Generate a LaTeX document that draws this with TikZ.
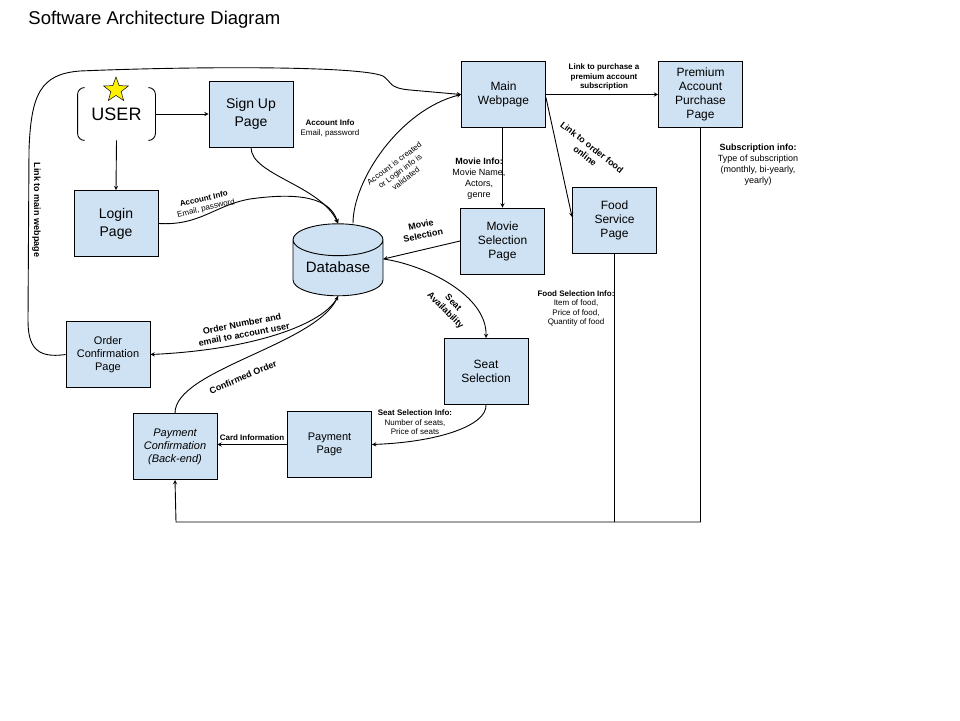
\documentclass[tikz,border=0pt]{standalone}
\usepackage{fontspec}
\setmainfont{Liberation Sans}
\usepackage{tikz}
\usetikzlibrary{shapes.geometric}
\definecolor{boxblue}{HTML}{CFE2F3}
\newcommand{\fsz}[2]{\fontsize{#1}{#2}\selectfont}

\begin{document}
\begin{tikzpicture}[x=1pt, y=-1pt, line width=0.9pt,
    pagebox/.style={draw, fill=boxblue, minimum width=84, minimum height=66, align=center, inner sep=1, font=\fsz{12}{14}},
    lbl/.style={align=center, inner sep=0, font=\fsz{8}{9.5}},
    lblbig/.style={align=center, inner sep=0, font=\fsz{9}{11}}]
\useasboundingbox (0,0) rectangle (960,720);
\node[anchor=west, inner sep=0, font=\fsz{18.5}{22}] (title) at (28,20) {Software Architecture Diagram};

% user and entry pages
\node[minimum width=77, minimum height=52, font=\fsz{18}{20}] (user) at (116.5,114) {USER};
\draw[rounded corners=7] ([xshift=7]user.north west) -- (user.north west) -- (user.south west) -- ([xshift=7]user.south west);
\draw[rounded corners=7] ([xshift=-7]user.north east) -- (user.north east) -- (user.south east) -- ([xshift=-7]user.south east);
\node[star, star points=5, star point ratio=2.4, draw, fill=yellow, line width=0.5pt, minimum size=26, inner sep=0] (userstar) at (116,90) {};
\node[pagebox, font=\fsz{14}{18}] (signup) at (251,114) {Sign Up\\Page};
\node[pagebox, font=\fsz{14}{18}] (login) at (116,223.5) {Login\\Page};

% web pages
\node[pagebox] (mainweb) at (503.5,94.5) {Main\\Webpage};
\node[pagebox] (premium) at (700.5,94.5) {Premium\\Account\\Purchase\\Page};
\node[pagebox] (food) at (614.5,220) {Food\\Service\\Page};
\node[pagebox] (movie) at (502.5,241) {Movie\\Selection\\Page};
\node[pagebox] (seat) at (486,371.5) {Seat\\Selection};
\node[pagebox, font=\fsz{11}{13}] (payment) at (329.5,444.5) {Payment\\Page};
\node[pagebox, font=\fsz{11}{13}] (orderconf) at (108,354.5) {Order\\Confirmation\\Page};
\node[pagebox, font=\fsz{11}{13}\itshape] (payconf) at (175,446.5) {Payment\\Confirmation\\(Back-end)};
\node[cylinder, shape border rotate=90, aspect=0.45, draw, fill=boxblue, minimum width=90, minimum height=72, font=\fsz{15}{18}] (db) at (338,271) {\raisebox{7pt}{Database}};

% sign up / login
\draw[-stealth] (user.east) -- (signup.west);
\draw[-stealth] (user.south) -- (login.north);
\draw[-stealth] (signup.south) .. controls (251,175) and (320,185) .. (db.north);
\draw[-stealth] (login.east) .. controls (200,226) and (215,205) .. (250,199) .. controls (300,192) and (330,198) .. (db.north);
\node[lbl] (signupinfo) at (330,128.5) {\textbf{Account Info}\\Email, password};
\node[lbl, rotate=13] (logininfo) at (205,204) {\textbf{Account Info}\\Email, password};
\draw[-stealth] ([xshift=15]db.north) .. controls (353,180) and (400,110) .. (mainweb.west);
\node[lbl, rotate=37] (validinfo) at (400,171) {Account is created\\or Login info is\\validated};

% back to main webpage
\draw[-stealth] (orderconf.west) .. controls (35,359) and (28,345) .. (28,320) -- (29,150)
    .. controls (31,95) and (40,74) .. (80,71) .. controls (200,66) and (360,66) .. (383,76)
    .. controls (392,82) and (388,88) .. (410,90) -- (mainweb.west);
\node[lblbig, rotate=-90, font=\bfseries\fsz{9}{11}] (mainlink) at (36.5,210) {Link to main webpage};

% main webpage links
\draw[-stealth] (mainweb.east) -- (premium.west);
\node[lbl, font=\bfseries\fsz{8}{9.5}] (premiumlink) at (604,77) {Link to purchase a\\premium account\\subscription};
\draw[-stealth] ([yshift=-3]mainweb.east) -- ([yshift=3]food.west);
\node[lblbig, rotate=-38, font=\bfseries\fsz{9}{11}] (foodlink) at (588.5,151.5) {Link to order food\\online};
\draw[-stealth] (movie.north |- mainweb.south) -- (movie.north);
\node[lblbig] (movieinfo) at (479,179) {\textbf{Movie Info:}\\Movie Name,\\Actors,\\genre};

% movie and seats
\draw[-stealth] (movie.west) -- ([yshift=12]db.east);
\node[lblbig, rotate=12, font=\bfseries\fsz{9}{11}] (moviesel) at (422,230) {Movie\\Selection};
\draw[-stealth] ([yshift=12]db.east) .. controls (425,265) and (487,295) .. (seat.north);
\node[lblbig, rotate=-45, font=\bfseries\fsz{9}{11}] (seatavail) at (449,307) {Seat\\Availability};
\draw[-stealth] (seat.south) .. controls (487,425) and (440,442) .. (payment.east);
\node[lbl] (seatinfo) at (415,422.5) {\textbf{Seat Selection Info:}\\Number of seats,\\Price of seats};

% payment
\draw[-stealth] (payment.west) -- (payment.west -| payconf.east);
\node[lbl, font=\bfseries\fsz{8}{9.5}] (cardinfo) at (252,438) {Card Information};
\draw[-stealth] (payconf.north) .. controls (175,370) and (315,345) .. (db.south);
\node[lblbig, rotate=23, font=\bfseries\fsz{9}{11}] (confirmed) at (243,377) {Confirmed Order};
\draw[-stealth] (db.south) .. controls (325,325) and (250,350) .. (orderconf.east);
\node[lblbig, rotate=11, font=\bfseries\fsz{9}{11}] (ordernum) at (243,329) {Order Number and\\email to account user};

% food and subscription back to payment
\coordinate (bend) at (176,522);
\draw[-stealth] (premium.south) |- (bend) -- (payconf.south);
\draw (food.south) -- (food.south |- bend);
\node[lbl] (foodinfo) at (576,308.5) {\textbf{Food Selection Info:}\\Item of food,\\Price of food,\\Quantity of food};
\node[lblbig] (subinfo) at (758,165) {\textbf{Subscription info:}\\Type of subscription\\(monthly, bi-yearly,\\yearly)};
\end{tikzpicture}
\end{document}
